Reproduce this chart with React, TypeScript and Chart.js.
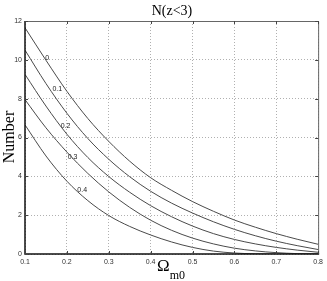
import { useEffect, useRef } from "react";
import { Chart, registerables } from "chart.js";

Chart.register(...registerables);

const omegaM = [0.1, 0.15, 0.2, 0.25, 0.3, 0.35, 0.4, 0.45, 0.5, 0.55, 0.6, 0.65, 0.7, 0.75, 0.8];
const curve0 = [11.65, 9.98, 8.38, 6.98, 5.8, 4.78, 3.93, 3.28, 2.7, 2.2, 1.75, 1.38, 1.05, 0.76, 0.5];
const curve1 = [10.5, 8.78, 7.25, 5.95, 4.88, 3.98, 3.23, 2.62, 2.11, 1.66, 1.27, 0.94, 0.66, 0.43, 0.23];
const curve2 = [9.25, 7.62, 6.17, 4.97, 3.99, 3.18, 2.49, 1.92, 1.44, 1.05, 0.75, 0.52, 0.34, 0.2, 0.09];
const curve3 = [7.95, 6.5, 5.25, 4.15, 3.2, 2.4, 1.74, 1.22, 0.82, 0.52, 0.3, 0.16, 0.07, 0.02, 0];
const curve4 = [6.65, 5.05, 3.75, 2.75, 1.98, 1.42, 0.98, 0.62, 0.34, 0.15, 0.05, 0.01, 0, 0, 0];
const curves = [curve0, curve1, curve2, curve3, curve4];
const curveLabels = ["0", "0.1", "0.2", "0.3", "0.4"];
const labelX = [0.153, 0.177, 0.197, 0.2135, 0.2365];
const labelY = [10.1, 8.47, 6.6, 4.98, 3.3];
const xTicks = [0.1, 0.2, 0.3, 0.4, 0.5, 0.6, 0.7, 0.8];
const yTicks = [0, 2, 4, 6, 8, 10, 12];
const titleText = "N(z<3)";
const yTitle = "Number";
const xTitleMain = "Ω";
const xTitleSub = "m0";

const W = 327;
const H = 281;

const decorPlugin = {
  id: "decor",
  afterDraw(chart: any) {
    const { ctx, chartArea, scales } = chart;
    const { left, right, top, bottom } = chartArea;
    const xs = scales.x;
    const ys = scales.y;
    ctx.save();
    // box
    ctx.strokeStyle = "#666";
    ctx.lineWidth = 1;
    ctx.beginPath();
    ctx.moveTo(left, top + 0.5);
    ctx.lineTo(right + 0.5, top + 0.5);
    ctx.lineTo(right + 0.5, bottom);
    ctx.stroke();
    ctx.strokeStyle = "#111";
    ctx.lineWidth = 1.5;
    ctx.beginPath();
    ctx.moveTo(left, top);
    ctx.lineTo(left, bottom);
    ctx.lineTo(right + 1, bottom);
    ctx.stroke();
    // inward ticks
    ctx.strokeStyle = "#444";
    ctx.lineWidth = 1;
    ctx.beginPath();
    for (const t of yTicks) {
      const py = Math.round(ys.getPixelForValue(t)) + 0.5;
      ctx.moveTo(left, py);
      ctx.lineTo(left + 3, py);
      ctx.moveTo(right, py);
      ctx.lineTo(right - 3, py);
    }
    for (const t of xTicks) {
      const px = Math.round(xs.getPixelForValue(t)) + 0.5;
      ctx.moveTo(px, bottom);
      ctx.lineTo(px, bottom - 3);
      ctx.moveTo(px, top);
      ctx.lineTo(px, top + 3);
    }
    ctx.stroke();
    // curve labels
    ctx.fillStyle = "#222";
    ctx.font = "7px 'Liberation Sans', Arial, sans-serif";
    ctx.textAlign = "center";
    ctx.textBaseline = "middle";
    curveLabels.forEach((lab, i) => {
      ctx.fillText(lab, xs.getPixelForValue(labelX[i]), ys.getPixelForValue(labelY[i]));
    });
    // title
    ctx.fillStyle = "#000";
    ctx.font = "14px 'Liberation Serif', 'Times New Roman', serif";
    ctx.textBaseline = "alphabetic";
    ctx.fillText(titleText, 172, 15);
    // y title
    ctx.save();
    ctx.translate(14, 137);
    ctx.rotate(-Math.PI / 2);
    ctx.font = "16px 'Liberation Serif', 'Times New Roman', serif";
    ctx.textAlign = "center";
    ctx.fillText(yTitle, 0, 0);
    ctx.restore();
    // x title with subscript
    ctx.font = "17px 'Liberation Serif', 'Times New Roman', serif";
    ctx.textAlign = "left";
    ctx.fillText(xTitleMain, 157, 271);
    const wOmega = ctx.measureText(xTitleMain).width;
    ctx.font = "12px 'Liberation Serif', 'Times New Roman', serif";
    ctx.fillText(xTitleSub, 157 + wOmega, 279);
    ctx.restore();
  },
};

export default function App() {
  const ref = useRef<HTMLCanvasElement | null>(null);
  useEffect(() => {
    if (!ref.current) return;
    const chart = new Chart(ref.current, {
      type: "line",
      data: {
        datasets: curves.map((c, i) => ({
          label: curveLabels[i],
          data: omegaM.map((x, j) => ({ x, y: c[j] })),
          borderColor: "#4a4a4a",
          borderWidth: 1,
          pointRadius: 0,
          fill: false,
          cubicInterpolationMode: "monotone" as const,
        })),
      },
      options: {
        responsive: false,
        animation: false,
        events: [],
        layout: { padding: { left: 0, top: 21, right: 8, bottom: 0 } },
        plugins: { legend: { display: false }, tooltip: { enabled: false }, title: { display: false } },
        scales: {
          x: {
            type: "linear",
            min: 0.1,
            max: 0.8,
            afterFit: (s: any) => {
              s.height = 27;
            },
            afterBuildTicks: (s: any) => {
              s.ticks = xTicks.map((v) => ({ value: v }));
            },
            border: { display: false, dash: [1, 2] },
            grid: { color: "#b0b0b0", lineWidth: 1, drawTicks: false },
            ticks: {
              padding: 4,
              color: "#333",
              font: { size: 7, family: "'Liberation Sans', Arial, sans-serif" },
              callback: (v: any) => Number(v).toFixed(1),
              maxRotation: 0,
            },
          },
          y: {
            type: "linear",
            min: 0,
            max: 12,
            afterFit: (s: any) => {
              s.width = 25;
            },
            afterBuildTicks: (s: any) => {
              s.ticks = yTicks.map((v) => ({ value: v }));
            },
            border: { display: false, dash: [1, 2] },
            grid: { color: "#b0b0b0", lineWidth: 1, drawTicks: false },
            ticks: {
              padding: 3,
              color: "#333",
              font: { size: 7, family: "'Liberation Sans', Arial, sans-serif" },
            },
          },
        },
      },
      plugins: [decorPlugin],
    } as any);
    return () => chart.destroy();
  }, []);
  return (
    <div style={{ position: "fixed", left: 0, top: 0, width: W, height: H, background: "#fff" }}>
      <canvas ref={ref} width={W} height={H} style={{ width: W, height: H, display: "block" }} />
    </div>
  );
}
